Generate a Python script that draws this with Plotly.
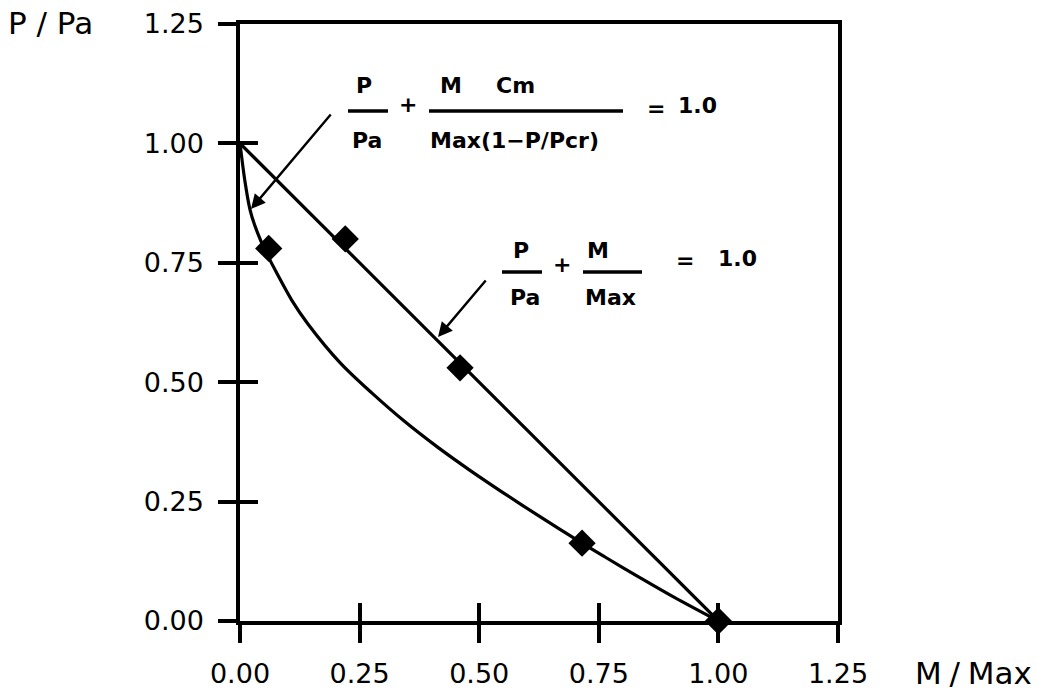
import plotly.graph_objects as go

# ---- data ----
line_m = [0.0, 1.0]
line_p = [1.0, 0.0]

curve_m = [0.000, 0.010, 0.021, 0.031, 0.044, 0.058, 0.076, 0.108, 0.142, 0.210,
           0.276, 0.345, 0.413, 0.480, 0.548, 0.623, 0.715, 0.763, 0.834, 0.907, 1.000]
curve_p = [1.000, 0.923, 0.861, 0.828, 0.795, 0.765, 0.730, 0.672, 0.622, 0.540,
           0.477, 0.417, 0.364, 0.316, 0.270, 0.221, 0.163, 0.134, 0.092, 0.050, 0.000]

mark_m = [0.06, 0.22, 0.46, 0.715, 1.0]
mark_p = [0.78, 0.80, 0.53, 0.163, 0.0]

tick_vals = [0.0, 0.25, 0.5, 0.75, 1.0, 1.25]
tick_text = ["0.00", "0.25", "0.50", "0.75", "1.00", "1.25"]

x_title = "M\u2005/\u2005Max"
y_title = "P / Pa"

# ---- layout helpers (pixel -> paper) ----
L, R, T, B = 240, 838, 24, 621
W, H = 1042, 698
def px(x):
    return (x - L) / (R - L)
def py(y):
    return (B - y) / (B - T)

fig = go.Figure()
fig.add_trace(go.Scatter(x=curve_m, y=curve_p, mode="lines",
                         line=dict(color="black", width=3.2, shape="spline", smoothing=0.9),
                         hoverinfo="skip", showlegend=False))
fig.add_trace(go.Scatter(x=line_m, y=line_p, mode="lines", xaxis="x2", yaxis="y2",
                         line=dict(color="black", width=3.2),
                         hoverinfo="skip", showlegend=False))
fig.add_trace(go.Scatter(x=mark_m, y=mark_p, mode="markers", cliponaxis=False,
                         marker=dict(symbol="diamond", size=21, color="black"),
                         hoverinfo="skip", showlegend=False))

tickfont = dict(family="DejaVu Sans", size=27, color="black")
common = dict(range=[0, 1.25], showgrid=False, zeroline=False, tickvals=tick_vals,
              ticktext=tick_text, tickwidth=3.5, tickcolor="black", ticklen=18,
              automargin=False, fixedrange=True)

fig.update_layout(
    width=W, height=H,
    margin=dict(l=L, r=W - R, t=T, b=H - B, autoexpand=False),
    paper_bgcolor="white", plot_bgcolor="white",
    xaxis=dict(**common, ticks="outside", showline=True, linewidth=3.5, linecolor="black",
               mirror=True, tickfont=tickfont, ticklabelstandoff=8),
    yaxis=dict(**common, ticks="outside", showline=True, linewidth=3.5, linecolor="black",
               mirror=True, tickfont=tickfont, ticklabelstandoff=9),
    xaxis2=dict(**common, ticks="inside", overlaying="x", anchor="y", showline=False,
                showticklabels=False),
    yaxis2=dict(**common, ticks="inside", overlaying="y", anchor="x", showline=False,
                showticklabels=False),
)

titlefont = dict(family="DejaVu Sans", size=31, color="black")
ann = [
    dict(text=y_title, x=px(6), y=py(23), xanchor="left", yanchor="middle", font=titlefont),
    dict(text=x_title, x=px(913), y=py(673), xanchor="left", yanchor="middle", font=titlefont),
]

ff = dict(family="DejaVu Sans", size=22, color="black")
pieces = [
    ("<b>P</b>", 364, 85), ("<b>Pa</b>", 367, 140), ("<b>+</b>", 408, 104),
    ("<b>M</b>", 451, 85), ("<b>Cm</b>", 515, 85), ("<b>Max(1\u2212P/Pcr)</b>", 514, 140),
    ("<b>=</b>", 656, 108), ("<b>1.0</b>", 697, 105),
    ("<b>P</b>", 521, 250), ("<b>Pa</b>", 525, 297), ("<b>+</b>", 562, 264),
    ("<b>M</b>", 598, 250), ("<b>Max</b>", 610, 297),
    ("<b>=</b>", 685, 260), ("<b>1.0</b>", 737, 258),
]
for t, x, y in pieces:
    ann.append(dict(text=t, x=px(x), y=py(y), xanchor="center", yanchor="middle", font=ff))

# leader arrows
ann.append(dict(text="", x=px(251), y=py(209), ax=332 - 251, ay=113 - 209,
                showarrow=True, arrowhead=2, arrowsize=1.2, arrowwidth=2.4, arrowcolor="black"))
ann.append(dict(text="", x=px(438), y=py(337), ax=487 - 438, ay=279 - 337,
                showarrow=True, arrowhead=2, arrowsize=1.2, arrowwidth=2.4, arrowcolor="black"))

for a in ann:
    a.setdefault("xref", "paper")
    a.setdefault("yref", "paper")
    a.setdefault("showarrow", False)
fig.update_layout(annotations=ann)

bars = [(348, 388, 111), (429, 623, 111), (502, 542, 272), (583, 642, 272)]
for x0, x1, y in bars:
    fig.add_shape(type="line", xref="paper", yref="paper", x0=px(x0), x1=px(x1),
                  y0=py(y), y1=py(y), line=dict(color="black", width=3.5))

fig.write_html("out.html")
